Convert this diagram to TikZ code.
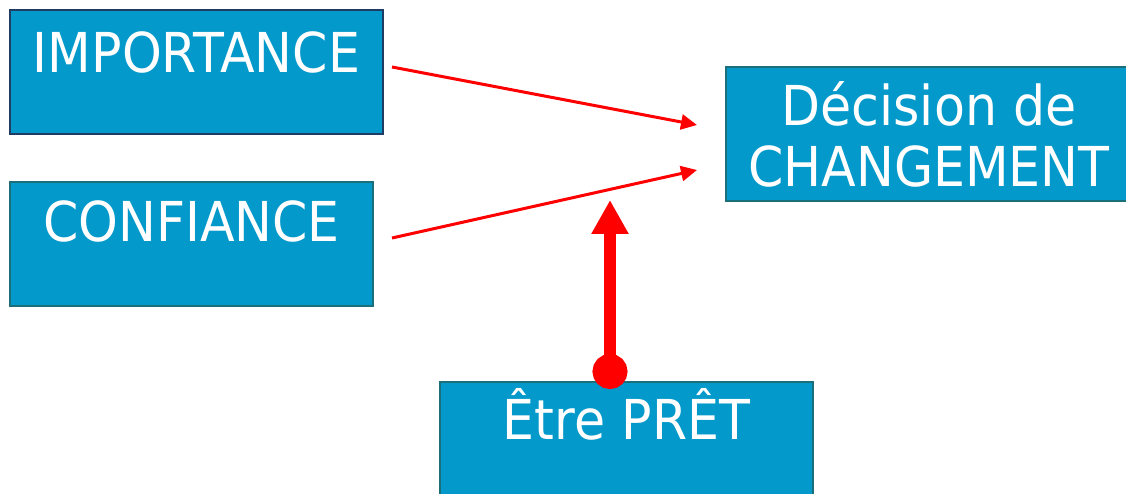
\documentclass[tikz,border=0pt]{standalone}
\usepackage{fontspec}
\setmainfont{DejaVu Sans}[FakeStretch=0.92]
\usetikzlibrary{arrows.meta}
\definecolor{boxfill}{HTML}{0399CB}
\definecolor{navyb}{HTML}{1F3C64}
\definecolor{tealb}{HTML}{1B6F78}
\definecolor{arrred}{HTML}{FF0000}
\begin{document}
\begin{tikzpicture}[x=1pt,y=-1pt,
  box/.style={draw=tealb, line width=2pt, fill=boxfill, text=white, inner sep=0pt,
    anchor=north west, font=\fontsize{55}{61}\selectfont},
  thinarrow/.style={draw=arrred, line width=3pt, -{Triangle[length=16pt,width=15pt]}},
  thickarrow/.style={draw=arrred, fill=arrred, line width=12pt,
    {Circle[length=35pt]}-{Triangle[length=34pt,width=35pt]}}]
\clip (0,0) rectangle (1126,494);
\fill[white] (0,0) rectangle (1126,494);
\node[box, draw=navyb, minimum width=373pt, text height=63pt, text depth=61pt] (imp) at (9,9) {IMPORTANCE};
\node[box, minimum width=363pt, text height=59pt, text depth=65pt] (conf) at (9,181) {CONFIANCE};
\node[box, minimum width=406pt, minimum height=134pt, align=center] (dec) at (725,66) {Décision de\\CHANGEMENT};
\node[box, minimum width=373pt, text height=57pt, text depth=67pt] (pret) at (439,381) {Être PRÊT};
\coordinate (a1s) at (392,67);
\coordinate (a1e) at (697,125);
\coordinate (a2s) at (392,238);
\coordinate (a2e) at (697,170);
\coordinate (a3s) at (610,389);
\coordinate (a3e) at (610,200);
\draw[thinarrow] (a1s) -- (a1e);
\draw[thinarrow] (a2s) -- (a2e);
\draw[thickarrow] (a3s) -- (a3e);
\end{tikzpicture}
\end{document}
